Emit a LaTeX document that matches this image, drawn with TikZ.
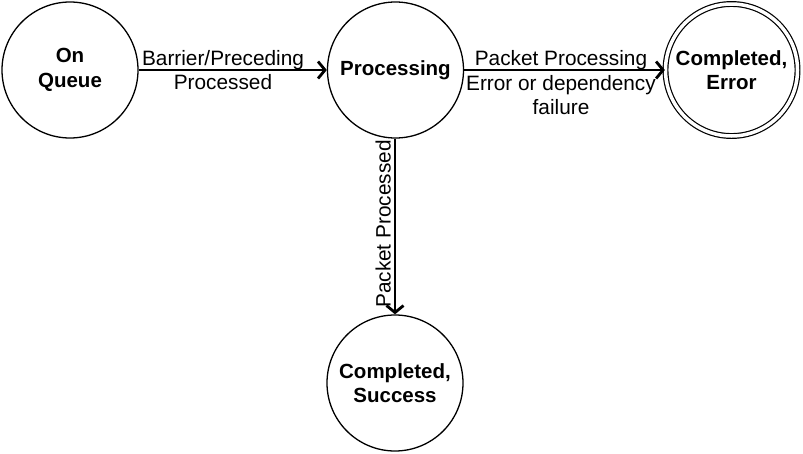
\documentclass[tikz,border=0pt]{standalone}
\usepackage{fontspec}
\setmainfont{Liberation Sans}
\usetikzlibrary{arrows.meta}
\begin{document}
\begin{tikzpicture}[x=1pt,y=1pt,
        state/.style={circle,draw,line width=1.3pt,minimum size=136pt,inner sep=0pt,align=center,
                font=\fontsize{20.5}{24.5}\selectfont\bfseries},
        final/.style={state,double,double distance=3.5pt,line width=1.2pt,minimum size=132pt},
        trans/.style={line width=1.9pt,-{Straight Barb[length=7pt,width=17pt,line width=2.8pt]}},
        lbl/.style={align=center,inner sep=0pt,font=\fontsize{20.8}{24.5}\selectfont}]
        \useasboundingbox (0,0) rectangle (803,-453);
        \node[state](queue) at (70,-70) {On\\Queue};
        \node[state](proc) at (395.5,-70) {Processing};
        \node[final](err) at (731.5,-70) {Completed,\\Error};
        \node[state](succ) at (395,-383) {Completed,\\Success};
        \draw[trans](queue)--(proc);
        \draw[trans](proc)--(err);
        \draw[trans](proc.south-|succ)--(succ);
        \node[lbl](l1) at (223,-70) {Barrier/Preceding\\Processed};
        \node[lbl](l2) at (561,-83) {Packet Processing\\Error or dependency\\failure};
        \node[lbl,rotate=90,anchor=south](l3) at (391,-224) {Packet Processed};
        \end{tikzpicture}
\end{document}
